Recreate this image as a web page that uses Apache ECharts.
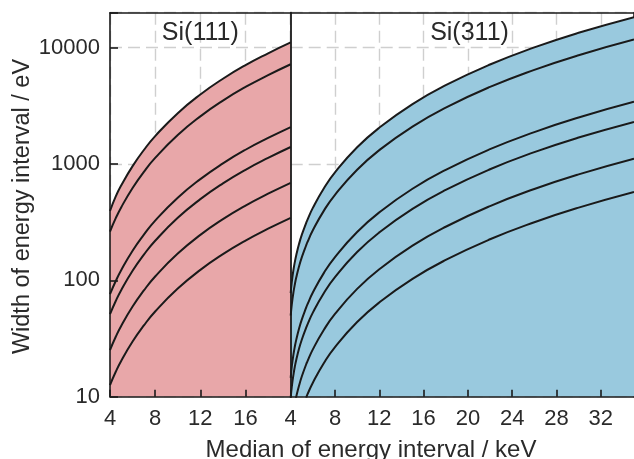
<!DOCTYPE html>
<html>
<head>
<meta charset="utf-8">
<script src="https://cdn.jsdelivr.net/npm/echarts@6/dist/echarts.min.js"></script>
<style>
html,body{margin:0;padding:0;background:#fff;}
#chart{width:634px;height:459px;}
</style>
</head>
<body>
<div id="chart"></div>
<script>
// ---- Data ----
const panelTitles = ['Si(111)', 'Si(311)'];
const xTitle = 'Median of energy interval / keV';
const yTitle = 'Width of energy interval / eV';

// Si(111) panel: median energy (keV)
const leftE = [4, 4.5, 5, 6, 7, 8, 10, 12, 14, 16, 18, 20];
const left1 = [395, 525, 657, 960, 1320, 1739, 2737, 3961, 5410, 7084, 8952, 11109];
const left2 = [263, 341, 426, 623, 857, 1129, 1777, 2571, 3511, 4598, 5810, 7211];
const left3 = [76, 98.3, 123, 180, 247, 326, 513, 742, 1013, 1327, 1676, 2080];
const left4 = [51.2, 66.2, 82.8, 121, 166.5, 219, 345, 499, 682, 893, 1129, 1401];
const left5 = [25.2, 32.6, 40.8, 59.6, 82, 108, 170, 246, 336, 440, 556, 690];
const left6 = [12.6, 16.3, 20.4, 29.8, 41, 54, 85, 123, 168, 220, 278, 345];

// Si(311) panel: median energy (keV)
const rightE = [4, 4.1, 4.25, 4.4, 4.5, 4.75, 5, 5.4, 5.5, 6, 7, 8, 10, 12, 15, 18, 22, 26, 30, 35];
const right1 = [77.8, 97.1, 123.4, 148.5, 164.7, 205, 245.8, 312.6, 330, 420, 620, 848, 1393, 2054, 3275, 4764, 7171, 10058, 13429, 18317];
const right2 = [49.9, 62.3, 79.2, 95.3, 105.7, 131.6, 157.7, 200.5, 211.8, 269.5, 397.8, 544, 893.5, 1318, 2101, 3056, 4600, 6453, 8615, 11750];
const right3 = [14.5, 18.2, 23.1, 27.8, 30.8, 38.4, 46, 58.5, 61.8, 78.6, 116, 158.7, 260.6, 384.4, 612.9, 891.3, 1342, 1882, 2513, 3427];
const right4 = [9.8, 12.2, 15.5, 18.7, 20.7, 25.8, 30.9, 39.3, 41.5, 52.8, 78, 106.7, 175.2, 258.4, 412, 599, 902, 1265, 1689, 2304];
const right5 = [null, null, null, 9.0, 10.0, 12.4, 14.9, 19.0, 20.0, 25.5, 37.6, 51.5, 84.5, 124.7, 198.8, 289, 435, 610, 815, 1112];
const right6 = [null, null, null, null, null, null, null, 9.8, 10.4, 13.2, 19.5, 26.7, 43.8, 64.6, 103, 149.8, 225.5, 316.3, 422.3, 576];

// ---- Styling ----
const FONT = '"Liberation Sans", Arial, sans-serif';
const TXT = '#2a2a2a';
const LINE = '#1a1a1a';
const PINK = '#E8A7A9';
const BLUE = '#99C9DE';
const gridTop = 12.7, gridH = 384;
const x0 = 110, xMid = 290.7, xEnd = 641.9;

function pairs(xs, ys) { return xs.map((x, i) => [x, ys[i]]); }

function isPow10(v) {
  const l = Math.log10(v);
  return Math.abs(l - Math.round(l)) < 1e-6;
}

const dashed = { show: true, lineStyle: { color: '#cfcfcf', width: 1.4, type: [12, 6] } };

function mainX(gi, max) {
  return {
    type: 'value', gridIndex: gi, position: 'bottom', min: 4, max: max, interval: 4, z: 10,
    axisLine: { show: true, onZero: false, lineStyle: { color: LINE, width: 1.6 } },
    axisTick: { show: true, inside: true, length: 7, lineStyle: { color: LINE, width: 1.6 } },
    axisLabel: { show: true, margin: 11, fontSize: 22, color: TXT, fontFamily: FONT, showMaxLabel: false },
    splitLine: { show: false }
  };
}
function gridX(gi, max) {
  return {
    type: 'value', gridIndex: gi, position: 'top', min: 4, max: max, interval: 4, z: 0,
    axisLine: { show: true, onZero: false, lineStyle: { color: LINE, width: 1.6 } },
    axisTick: { show: false }, axisLabel: { show: false },
    splitLine: dashed
  };
}
function logY(gi, pos, opts) {
  return Object.assign({
    type: 'log', logBase: 10, gridIndex: gi, position: pos, min: 10, max: 20000,
    axisLine: { show: false, onZero: false, lineStyle: { color: LINE, width: 1.6 } },
    axisTick: { show: false }, axisLabel: { show: false },
    splitLine: { show: false }, minorTick: { show: false }
  }, opts);
}

function lineSeries(xi, yi, xs, ys, area) {
  const s = {
    type: 'line', xAxisIndex: xi, yAxisIndex: yi, data: pairs(xs, ys),
    showSymbol: false, symbol: 'none', smooth: 0.5, clip: true,
    connectNulls: false,
    lineStyle: { color: LINE, width: 2 }, z: 3, silent: true
  };
  if (area) { s.areaStyle = { color: area, opacity: 1, origin: 'start' }; s.z = 2; }
  return s;
}

const option = {
  backgroundColor: '#fff',
  animation: false,
  grid: [
    { left: x0, top: gridTop, width: xMid - x0, height: gridH, containLabel: false },
    { left: xMid, top: gridTop, width: xEnd - xMid, height: gridH, containLabel: false }
  ],
  xAxis: [ mainX(0, 20), gridX(0, 20), mainX(1, 35), gridX(1, 35) ],
  yAxis: [
    logY(0, 'left', {
      z: 10,
      axisLine: { show: true, onZero: false, lineStyle: { color: LINE, width: 1.6 } },
      axisTick: { show: true, inside: true, length: 8, lineStyle: { color: LINE, width: 1.6 } },
      axisLabel: { show: true, margin: 10, fontSize: 22, color: TXT, fontFamily: FONT,
        formatter: v => isPow10(v) ? String(Math.round(v)) : '' }
    }),
    logY(0, 'right', { z: 0, splitLine: dashed }),
    logY(1, 'left', {
      z: 10,
      axisLine: { show: true, onZero: false, lineStyle: { color: LINE, width: 1.8 } }
    }),
    logY(1, 'right', { z: 0, splitLine: dashed,
      axisLine: { show: true, onZero: false, lineStyle: { color: LINE, width: 1.6 } } })
  ],
  series: [
    lineSeries(0, 0, leftE, left1, PINK),
    lineSeries(0, 0, leftE, left2),
    lineSeries(0, 0, leftE, left3),
    lineSeries(0, 0, leftE, left4),
    lineSeries(0, 0, leftE, left5),
    lineSeries(0, 0, leftE, left6),
    lineSeries(2, 2, rightE, right1, BLUE),
    lineSeries(2, 2, rightE, right2),
    lineSeries(2, 2, rightE, right3),
    lineSeries(2, 2, rightE, right4),
    lineSeries(2, 2, rightE, right5),
    lineSeries(2, 2, rightE, right6)
  ],
  graphic: [
    { type: 'text', x: 200.3, y: 33, z: 20, style: { text: panelTitles[0], fill: TXT, font: '25px ' + FONT, align: 'center', verticalAlign: 'middle' } },
    { type: 'text', x: 469.5, y: 33, z: 20, style: { text: panelTitles[1], fill: TXT, font: '25px ' + FONT, align: 'center', verticalAlign: 'middle' } },
    { type: 'text', x: 371, y: 450, z: 20, style: { text: xTitle, fill: TXT, font: '24px ' + FONT, align: 'center', verticalAlign: 'middle' } },
    { type: 'text', x: 23, y: 206.5, rotation: Math.PI / 2, z: 20, style: { text: yTitle, fill: TXT, font: '23.5px ' + FONT, align: 'center', verticalAlign: 'middle' } }
  ]
};

const chart = echarts.init(document.getElementById('chart'), null, { renderer: 'canvas', width: 634, height: 459 });
chart.setOption(option);
</script>
</body>
</html>
